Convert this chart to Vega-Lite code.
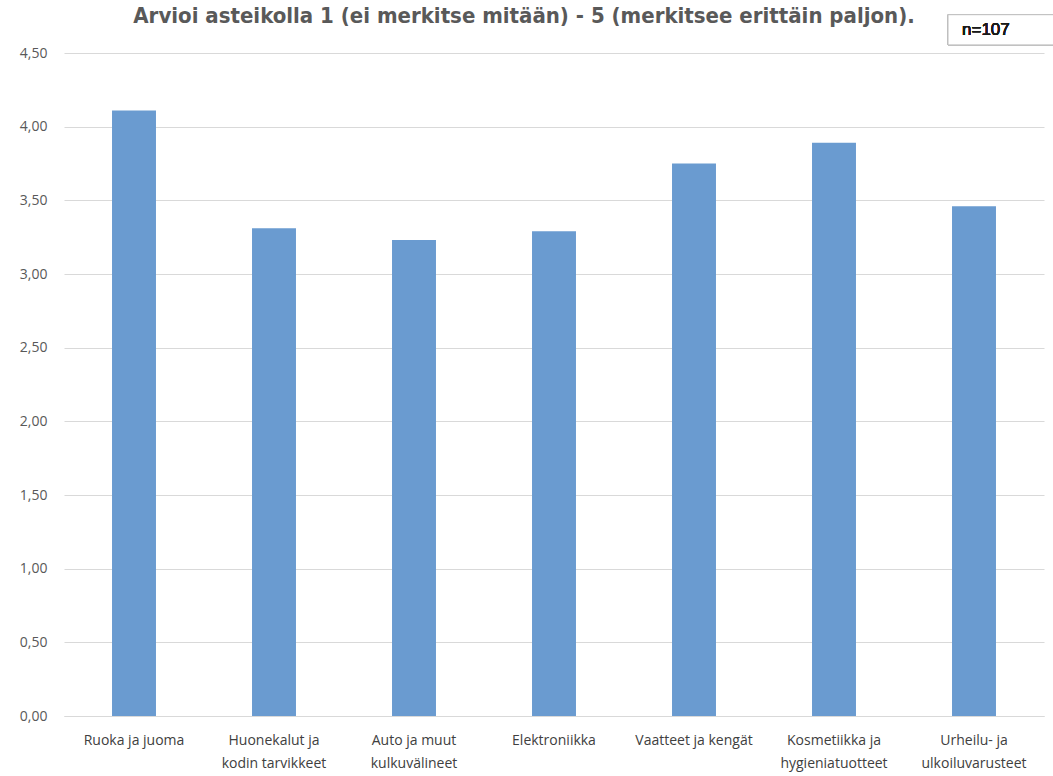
{
  "$schema": "https://vega.github.io/schema/vega-lite/v6.json",
  "width": 980,
  "height": 663,
  "autosize": {"type": "none"},
  "padding": {"left": 64, "top": 53, "right": 9, "bottom": 60},
  "background": "white",
  "title": {
    "text": "Arvioi asteikolla 1 (ei merkitse mitään) - 5 (merkitsee erittäin paljon).",
    "font": "DejaVu Sans Condensed",
    "fontSize": 22,
    "fontWeight": "bold",
    "color": "#595959",
    "anchor": "middle",
    "baseline": "alphabetic",
    "offset": -31,
    "dx": -30
  },
  "data": {
    "values": [
      {"kategoria": "Ruoka ja juoma", "keskiarvo": 4.11},
      {"kategoria": "Huonekalut ja kodin tarvikkeet", "keskiarvo": 3.31},
      {"kategoria": "Auto ja muut kulkuvälineet", "keskiarvo": 3.23},
      {"kategoria": "Elektroniikka", "keskiarvo": 3.29},
      {"kategoria": "Vaatteet ja kengät", "keskiarvo": 3.75},
      {"kategoria": "Kosmetiikka ja hygieniatuotteet", "keskiarvo": 3.89},
      {"kategoria": "Urheilu- ja ulkoiluvarusteet", "keskiarvo": 3.46}
    ]
  },
  "encoding": {
    "x": {
      "field": "kategoria",
      "type": "nominal",
      "sort": null,
      "scale": {"paddingInner": 0.686, "paddingOuter": 0.343},
      "axis": {
        "title": null,
        "labelAngle": 0,
        "labelFont": "Open Sans",
        "labelFontSize": 14,
        "labelColor": "#404040",
        "labelBaseline": "top",
        "labelPadding": 17,
        "labelLineHeight": 23,
        "labelLimit": 200,
        "ticks": false,
        "domain": true,
        "domainColor": "#d9d9d9",
        "domainWidth": 1,
        "labelExpr": "datum.value == 'Huonekalut ja kodin tarvikkeet' ? ['Huonekalut ja', 'kodin tarvikkeet'] : datum.value == 'Auto ja muut kulkuvälineet' ? ['Auto ja muut', 'kulkuvälineet'] : datum.value == 'Kosmetiikka ja hygieniatuotteet' ? ['Kosmetiikka ja', 'hygieniatuotteet'] : datum.value == 'Urheilu- ja ulkoiluvarusteet' ? ['Urheilu- ja', 'ulkoiluvarusteet'] : datum.value"
      }
    }
  },
  "layer": [
    {
      "mark": {"type": "bar", "color": "#6A9BD0"},
      "encoding": {
        "y": {
          "field": "keskiarvo",
          "type": "quantitative",
          "scale": {"domain": [0, 4.5], "nice": false},
          "axis": {
            "title": null,
            "values": [0, 0.5, 1, 1.5, 2, 2.5, 3, 3.5, 4, 4.5],
            "labelExpr": "replace(format(datum.value, '.2f'), '.', ',')",
            "labelFont": "Open Sans",
            "labelFontSize": 14,
            "labelColor": "#595959",
            "labelPadding": 17,
            "ticks": false,
            "domain": false,
            "grid": true,
            "gridColor": "#d9d9d9",
            "gridWidth": 1
          }
        }
      }
    },
    {
      "mark": {"type": "bar", "fill": "white", "stroke": "#bfbfbf", "strokeWidth": 1, "width": 140, "xOffset": 44, "clip": false},
      "encoding": {
        "x": {"datum": "Urheilu- ja ulkoiluvarusteet"},
        "y": {"datum": 4.555},
        "y2": {"datum": 4.76}
      }
    },
    {
      "mark": {"type": "text", "text": "n=107", "align": "left", "baseline": "middle", "font": "Liberation Sans", "fontSize": 17, "fontWeight": 400, "color": "#1a1a1a", "dx": -12},
      "encoding": {
        "x": {"datum": "Urheilu- ja ulkoiluvarusteet"},
        "y": {"datum": 4.655}
      }
    }
  ],
  "config": {
    "view": {"stroke": null}
  }
}
